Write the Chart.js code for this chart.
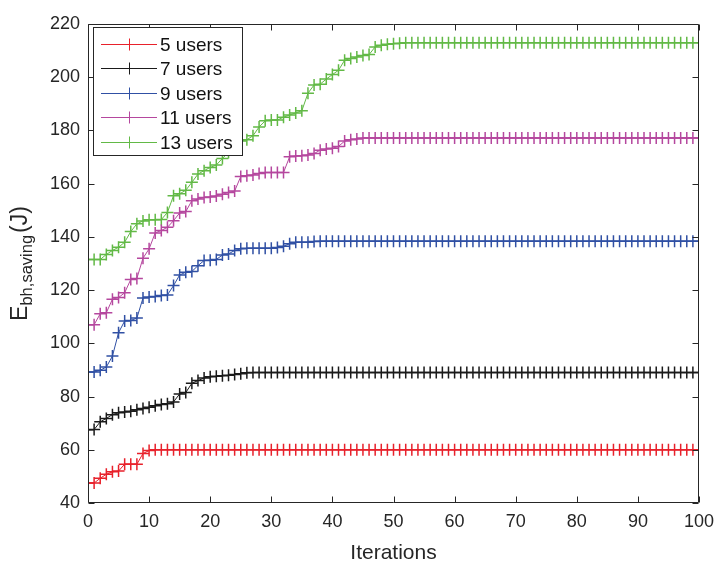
<!DOCTYPE html>
<html>
<head>
<meta charset="utf-8">
<script src="https://cdn.jsdelivr.net/npm/chart.js@4/dist/chart.umd.min.js"></script>
<style>
  body { margin: 0; background: #fff; }
  #wrap { width: 727px; height: 587px; }
</style>
</head>
<body>
<div id="wrap"><canvas id="chart" width="727" height="587"></canvas></div>
<script>
const seriesNames = ["5 users", "7 users", "9 users", "11 users", "13 users"];
const seriesColors = ["#e8212b", "#1a1a1a", "#3050a4", "#b5479e", "#62b946"];
const xTicks = [0, 10, 20, 30, 40, 50, 60, 70, 80, 90, 100];
const yTicks = [40, 60, 80, 100, 120, 140, 160, 180, 200, 220];

const iterations = [];
for (let i = 0; i <= 100; i++) iterations.push(i);

const users5 = [
  47.5, 47.5, 49.3, 50.8, 51.7, 52, 54.6, 54.6, 54.6, 58.6,
  59.7, 60, 60, 60, 60, 60, 60, 60, 60, 60,
  60, 60, 60, 60, 60, 60, 60, 60, 60, 60,
  60, 60, 60, 60, 60, 60, 60, 60, 60, 60,
  60, 60, 60, 60, 60, 60, 60, 60, 60, 60,
  60, 60, 60, 60, 60, 60, 60, 60, 60, 60,
  60, 60, 60, 60, 60, 60, 60, 60, 60, 60,
  60, 60, 60, 60, 60, 60, 60, 60, 60, 60,
  60, 60, 60, 60, 60, 60, 60, 60, 60, 60,
  60, 60, 60, 60, 60, 60, 60, 60, 60, 60,
  60
];
const users7 = [
  67.5, 67.6, 70.5, 71.8, 73.2, 73.9, 74.2, 74.5, 75, 75.5,
  76, 76.5, 77, 77.3, 78, 81, 81.5, 85, 86, 87,
  87.4, 87.6, 87.8, 88, 88.3, 88.6, 88.9, 89, 89, 89,
  89, 89, 89, 89, 89, 89, 89, 89, 89, 89,
  89, 89, 89, 89, 89, 89, 89, 89, 89, 89,
  89, 89, 89, 89, 89, 89, 89, 89, 89, 89,
  89, 89, 89, 89, 89, 89, 89, 89, 89, 89,
  89, 89, 89, 89, 89, 89, 89, 89, 89, 89,
  89, 89, 89, 89, 89, 89, 89, 89, 89, 89,
  89, 89, 89, 89, 89, 89, 89, 89, 89, 89,
  89
];
const users9 = [
  89.2, 89.2, 89.9, 91.1, 95.2, 104, 108.4, 108.6, 109.5, 117,
  117.4, 117.6, 118, 118.2, 121.7, 125.7, 126.7, 127, 129.2, 131.1,
  131.2, 131.5, 133.2, 133.6, 134.9, 135.5, 135.7, 135.7, 135.7, 135.7,
  135.7, 136, 136.5, 137.4, 138, 138, 138, 138.3, 138.4, 138.4,
  138.4, 138.4, 138.4, 138.4, 138.4, 138.4, 138.4, 138.4, 138.4, 138.4,
  138.4, 138.4, 138.4, 138.4, 138.4, 138.4, 138.4, 138.4, 138.4, 138.4,
  138.4, 138.4, 138.4, 138.4, 138.4, 138.4, 138.4, 138.4, 138.4, 138.4,
  138.4, 138.4, 138.4, 138.4, 138.4, 138.4, 138.4, 138.4, 138.4, 138.4,
  138.4, 138.4, 138.4, 138.4, 138.4, 138.4, 138.4, 138.4, 138.4, 138.4,
  138.4, 138.4, 138.4, 138.4, 138.4, 138.4, 138.4, 138.4, 138.4, 138.4,
  138.4
];
const users11 = [
  107, 107, 111.1, 111.5, 116.6, 117.2, 119, 124, 124.4, 132,
  135.5, 141.5, 142.4, 143.6, 146.1, 149, 149.5, 153.6, 154.2, 154.8,
  155, 155.4, 156, 156.7, 157.2, 162.7, 163, 163.3, 163.8, 164.2,
  164.2, 164.2, 164.2, 170.1, 170.4, 170.5, 170.8, 171.3, 172.6, 173,
  173.3, 174, 176, 176.5, 176.8, 177.2, 177.2, 177.2, 177.2, 177.2,
  177.2, 177.2, 177.2, 177.2, 177.2, 177.2, 177.2, 177.2, 177.2, 177.2,
  177.2, 177.2, 177.2, 177.2, 177.2, 177.2, 177.2, 177.2, 177.2, 177.2,
  177.2, 177.2, 177.2, 177.2, 177.2, 177.2, 177.2, 177.2, 177.2, 177.2,
  177.2, 177.2, 177.2, 177.2, 177.2, 177.2, 177.2, 177.2, 177.2, 177.2,
  177.2, 177.2, 177.2, 177.2, 177.2, 177.2, 177.2, 177.2, 177.2, 177.2,
  177.2
];
const users13 = [
  131.5, 131.5, 131.5, 133.4, 134.9, 136.1, 138, 142, 144.9, 146,
  146.4, 146.4, 146.5, 149.2, 155.5, 156.2, 157.5, 160.5, 163.6, 164.9,
  166.1, 167, 169.5, 171.7, 174, 176, 176.5, 178, 181.3, 183.6,
  183.9, 183.9, 185, 185.8, 186.6, 187.4, 194, 197.1, 197.4, 199.3,
  201, 202.6, 206.4, 207, 207.6, 208.2, 208.5, 211.4, 212, 212.4,
  212.6, 212.8, 213, 213, 213, 213, 213, 213, 213, 213,
  213, 213, 213, 213, 213, 213, 213, 213, 213, 213,
  213, 213, 213, 213, 213, 213, 213, 213, 213, 213,
  213, 213, 213, 213, 213, 213, 213, 213, 213, 213,
  213, 213, 213, 213, 213, 213, 213, 213, 213, 213,
  213
];
const seriesValues = [users5, users7, users9, users11, users13];

const FONT = "'Liberation Sans', Arial, sans-serif";
const TEXT = "#262626";

// MATLAB-like box with inward ticks, plus custom legend and axis titles
const axesDecor = {
  id: "axesDecor",
  afterDatasetsDraw(chart) {
    const { ctx, chartArea: a, scales: { x, y } } = chart;
    const L = Math.round(a.left) + 0.5, R = Math.round(a.right) - 0.5;
    const T = Math.round(a.top) + 0.5, B = Math.round(a.bottom) - 0.5;
    ctx.save();
    ctx.strokeStyle = TEXT;
    ctx.lineWidth = 1;
    ctx.beginPath();
    ctx.rect(L, T, R - L, B - T);
    xTicks.forEach(v => {
      const px = Math.round(x.getPixelForValue(v)) + 0.5;
      ctx.moveTo(px, B); ctx.lineTo(px, B - 6);
      ctx.moveTo(px, T); ctx.lineTo(px, T + 6);
    });
    yTicks.forEach(v => {
      const py = Math.round(y.getPixelForValue(v)) + 0.5;
      ctx.moveTo(L, py); ctx.lineTo(L + 6, py);
      ctx.moveTo(R, py); ctx.lineTo(R - 6, py);
    });
    ctx.stroke();

    // legend
    ctx.fillStyle = "#fff";
    ctx.fillRect(93.5, 27.5, 149, 128);
    ctx.strokeRect(93.5, 27.5, 149, 128);
    ctx.font = "19px " + FONT;
    ctx.textBaseline = "middle";
    ctx.textAlign = "left";
    seriesNames.forEach((name, i) => {
      const ly = Math.round(44 + i * 24.4) + 0.5;
      ctx.strokeStyle = seriesColors[i];
      ctx.lineWidth = 1;
      ctx.beginPath();
      ctx.moveTo(101, ly); ctx.lineTo(157, ly);
      ctx.moveTo(129.5, ly - 6); ctx.lineTo(129.5, ly + 6);
      ctx.stroke();
      ctx.fillStyle = "#111";
      ctx.fillText(name, 160, ly + 1.5);
    });

    // x title
    ctx.fillStyle = TEXT;
    ctx.font = "21px " + FONT;
    ctx.textAlign = "center";
    ctx.textBaseline = "alphabetic";
    ctx.fillText("Iterations", (a.left + a.right) / 2, 559);

    // y title: E_{bh,saving}(J)
    const big = "23px " + FONT, small = "16.5px " + FONT;
    ctx.font = big;
    const wE = ctx.measureText("E").width, wJ = ctx.measureText("(J)").width;
    ctx.font = small;
    const wS = ctx.measureText("bh,saving").width;
    const total = wE + wS + wJ + 2;
    ctx.translate(27, (a.top + a.bottom) / 2);
    ctx.rotate(-Math.PI / 2);
    ctx.textAlign = "left";
    let cx = -total / 2;
    ctx.font = big;
    ctx.fillText("E", cx, 0);
    cx += wE;
    ctx.font = small;
    ctx.fillText("bh,saving", cx, 5);
    cx += wS + 2;
    ctx.font = big;
    ctx.fillText("(J)", cx, 0);
    ctx.restore();
  }
};

new Chart(document.getElementById("chart"), {
  type: "line",
  data: {
    datasets: seriesNames.map((name, i) => ({
      label: name,
      data: iterations.map((it, k) => ({ x: it, y: seriesValues[i][k] })),
      borderColor: seriesColors[i],
      backgroundColor: seriesColors[i],
      borderWidth: 1,
      pointStyle: "cross",
      pointRadius: 6,
      pointBorderWidth: 1.5,
      pointBorderColor: seriesColors[i],
      tension: 0,
      fill: false,
    })),
  },
  plugins: [axesDecor],
  options: {
    responsive: false,
    animation: false,
    layout: { padding: { top: 24, right: 28, bottom: 0, left: 0 } },
    plugins: { legend: { display: false }, tooltip: { enabled: false } },
    scales: {
      x: {
        type: "linear",
        min: 0,
        max: 100,
        grid: { display: false, drawTicks: false },
        border: { display: false },
        afterBuildTicks: s => { s.ticks = xTicks.map(v => ({ value: v })); },
        afterFit: s => { s.height = 84; },
        ticks: { color: TEXT, font: { family: FONT, size: 18 }, padding: 8, maxRotation: 0 },
      },
      y: {
        min: 40,
        max: 220,
        grid: { display: false, drawTicks: false },
        border: { display: false },
        afterBuildTicks: s => { s.ticks = yTicks.map(v => ({ value: v })); },
        afterFit: s => { s.width = 88; },
        ticks: { color: TEXT, font: { family: FONT, size: 18 }, padding: 8 },
      },
    },
  },
});
</script>
</body>
</html>
